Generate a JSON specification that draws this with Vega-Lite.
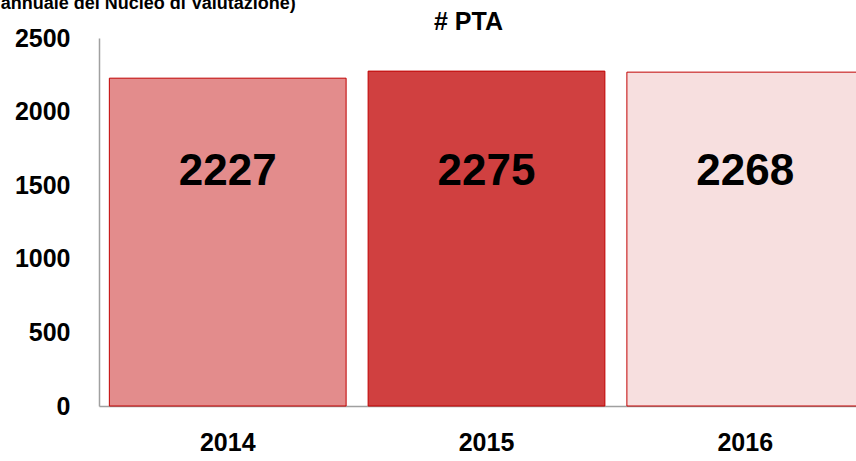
{
  "$schema": "https://vega.github.io/schema/vega-lite/v6.json",
  "autosize": "none",
  "padding": {"left": 99, "top": 38, "right": 0, "bottom": 55},
  "width": 775,
  "height": 368,
  "background": "white",
  "config": {"view": {"stroke": null}},
  "data": {
    "values": [
      {"year": "2014", "value": 2227},
      {"year": "2015", "value": 2275},
      {"year": "2016", "value": 2268}
    ]
  },
  "layer": [
    {
      "mark": {"type": "bar", "stroke": "#c00000", "strokeWidth": 1},
      "encoding": {
        "x": {
          "field": "year",
          "type": "nominal",
          "sort": null,
          "scale": {"paddingInner": 0.085, "paddingOuter": 0.04},
          "axis": {
            "title": null,
            "labelAngle": 0,
            "ticks": false,
            "domainColor": "#a0a0a0",
            "domainWidth": 1.5,
            "labelFont": "Liberation Sans",
            "labelFontSize": 25,
            "labelFontWeight": "bold",
            "labelColor": "#000000",
            "labelPadding": 24
          }
        },
        "y": {
          "field": "value",
          "type": "quantitative",
          "scale": {"domain": [0, 2500], "nice": false, "zero": false},
          "axis": {
            "title": null,
            "values": [0, 500, 1000, 1500, 2000, 2500],
            "format": "d",
            "grid": false,
            "ticks": false,
            "domainColor": "#a0a0a0",
            "domainWidth": 1.5,
            "labelFont": "Liberation Sans",
            "labelFontSize": 25,
            "labelFontWeight": "bold",
            "labelColor": "#000000",
            "labelPadding": 29
          }
        },
        "fill": {
          "field": "year",
          "type": "nominal",
          "scale": {"domain": ["2014", "2015", "2016"], "range": ["#e38c8c", "#d04040", "#f7dfdf"]},
          "legend": null
        }
      }
    },
    {
      "mark": {
        "type": "text",
        "font": "Liberation Sans",
        "fontSize": 44,
        "fontWeight": "bold",
        "color": "#000000",
        "baseline": "middle"
      },
      "encoding": {
        "x": {"field": "year", "type": "nominal", "sort": null},
        "y": {"datum": 1590, "type": "quantitative", "scale": {"domain": [0, 2500], "nice": false, "zero": false}},
        "text": {"field": "value", "type": "quantitative"}
      }
    },
    {
      "data": {"values": [{"label": "# PTA", "year": "2015", "pos": 2554}]},
      "mark": {
        "type": "text",
        "font": "Liberation Sans",
        "fontSize": 25,
        "fontWeight": "bold",
        "color": "#000000",
        "align": "center",
        "baseline": "alphabetic",
        "dx": -18
      },
      "encoding": {
        "x": {"field": "year", "type": "nominal"},
        "y": {"field": "pos", "type": "quantitative", "scale": {"domain": [0, 2500], "nice": false, "zero": false}},
        "text": {"field": "label"}
      }
    },
    {
      "data": {"values": [{"note": "Andamento del numero di PTA (fonte: elaborazioni su dati della Relazione annuale del Nucleo di Valutazione)", "year": "2014", "pos": 2700}]},
      "mark": {
        "type": "text",
        "font": "Liberation Sans",
        "fontSize": 18,
        "fontWeight": "bold",
        "color": "#000000",
        "align": "right",
        "baseline": "alphabetic",
        "dx": 68
      },
      "encoding": {
        "x": {"field": "year", "type": "nominal"},
        "y": {"field": "pos", "type": "quantitative", "scale": {"domain": [0, 2500], "nice": false, "zero": false}},
        "text": {"field": "note"}
      }
    }
  ]
}
